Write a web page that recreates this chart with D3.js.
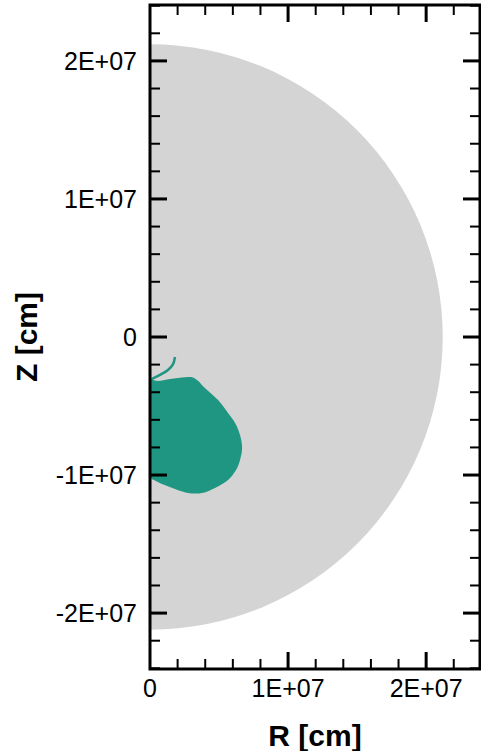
<!DOCTYPE html>
<html>
<head>
<meta charset="utf-8">
<script src="https://cdn.jsdelivr.net/npm/d3@7"></script>
<style>
  body { margin: 0; background: #fff; }
  svg { display: block; font-family: "Liberation Sans", Arial, sans-serif; }
</style>
</head>
<body>
<div id="chart"></div>
<script>
// Domain of the plot (cm)
const rDomain = [0, 2.39e7];
const zDomain = [-2.405e7, 2.405e7];

// Tick values
const rMajorTicks = [0, 1e7, 2e7];
const rTickLabels = ['0', '1E+07', '2E+07'];
const zMajorTicks = [-2e7, -1e7, 0, 1e7, 2e7];
const zTickLabels = ['-2E+07', '-1E+07', '0', '1E+07', '2E+07'];
const minorStep = 2e6;

// Outer star radius (gray half disk)
const starRadius = 2.12e7;

// Green plume outline, [R, Z] in 1e6 cm
const plumeOutline = [
  [0, -2.92], [0.43, -3.17], [1.45, -3.04], [2.54, -2.92], [3.05, -2.92],
  [3.45, -3.15], [3.90, -3.62], [4.93, -4.57], [5.65, -5.51], [6.16, -6.23], [6.52, -7.10],
  [6.67, -8.04], [6.52, -8.91], [6.23, -9.64], [5.65, -10.36], [4.71, -10.94],
  [3.77, -11.30], [2.75, -11.30], [1.81, -11.01], [0.87, -10.65], [0, -10.22]
];
// thin filament above the plume
const filament = [[1.81, -1.45], [1.67, -1.96], [1.30, -2.39], [0.72, -2.75], [0.14, -3.04]];

const width = 481;
const height = 751;
const margin = { left: 150, top: 5, right: 1, bottom: 82 };

const svg = d3.select('#chart')
  .append('svg')
  .attr('width', width)
  .attr('height', height);

const x = d3.scaleLinear().domain(rDomain).range([margin.left, width - margin.right]);
const y = d3.scaleLinear().domain(zDomain).range([height - margin.bottom, margin.top]);

// clip to frame
svg.append('clipPath').attr('id', 'clip')
  .append('rect')
  .attr('x', x(rDomain[0])).attr('y', y(zDomain[1]))
  .attr('width', x(rDomain[1]) - x(rDomain[0]))
  .attr('height', y(zDomain[0]) - y(zDomain[1]));

const plot = svg.append('g').attr('clip-path', 'url(#clip)');

// gray half disk
const rx = x(starRadius) - x(0);
const ry = y(0) - y(starRadius);
plot.append('path')
  .attr('d', `M${x(0)},${y(starRadius)} A${rx},${ry} 0 0 1 ${x(0)},${y(-starRadius)} Z`)
  .attr('fill', '#d4d4d4');

const line = d3.line()
  .x(d => x(d[0] * 1e6))
  .y(d => y(d[1] * 1e6))
  .curve(d3.curveCatmullRom);

plot.append('path')
  .attr('d', line(plumeOutline) + 'Z')
  .attr('fill', '#1f9682');

plot.append('path')
  .attr('d', line(filament))
  .attr('fill', 'none')
  .attr('stroke', '#1f9682')
  .attr('stroke-width', 2.5);

// ticks
const rMinor = d3.range(rDomain[0], rDomain[1], minorStep).filter(v => v % 1e7 !== 0);
const zMinor = d3.range(-2.4e7, 2.41e7, minorStep).filter(v => Math.abs(v % 1e7) > 1);

const ticks = svg.append('g').attr('stroke', '#000');
const majorLen = 17;
const minorLen = 10;

function hTicks(values, len, sw) {
  values.forEach(v => {
    // bottom
    ticks.append('line')
      .attr('x1', x(v)).attr('x2', x(v))
      .attr('y1', y(zDomain[0])).attr('y2', y(zDomain[0]) - len)
      .attr('stroke-width', sw);
    // top
    ticks.append('line')
      .attr('x1', x(v)).attr('x2', x(v))
      .attr('y1', y(zDomain[1])).attr('y2', y(zDomain[1]) + len)
      .attr('stroke-width', sw);
  });
}
function vTicks(values, len, sw) {
  values.forEach(v => {
    ticks.append('line')
      .attr('x1', x(rDomain[0])).attr('x2', x(rDomain[0]) + len)
      .attr('y1', y(v)).attr('y2', y(v))
      .attr('stroke-width', sw);
    ticks.append('line')
      .attr('x1', x(rDomain[1])).attr('x2', x(rDomain[1]) - len)
      .attr('y1', y(v)).attr('y2', y(v))
      .attr('stroke-width', sw);
  });
}
hTicks(rMajorTicks.filter(v => v > 0), majorLen, 3);
hTicks(rMinor, minorLen, 2);
vTicks(zMajorTicks, majorLen, 3);
vTicks(zMinor, minorLen, 2);

// frame
svg.append('rect')
  .attr('x', x(rDomain[0])).attr('y', y(zDomain[1]))
  .attr('width', x(rDomain[1]) - x(rDomain[0]))
  .attr('height', y(zDomain[0]) - y(zDomain[1]))
  .attr('fill', 'none')
  .attr('stroke', '#000')
  .attr('stroke-width', 3);

// tick labels
svg.append('g').selectAll('text')
  .data(rMajorTicks)
  .enter().append('text')
  .attr('x', d => x(d))
  .attr('y', y(zDomain[0]) + 28)
  .attr('text-anchor', 'middle')
  .attr('font-size', 25)
  .text((d, i) => rTickLabels[i]);

svg.append('g').selectAll('text')
  .data(zMajorTicks)
  .enter().append('text')
  .attr('x', x(rDomain[0]) - 13)
  .attr('y', d => y(d))
  .attr('dy', '0.36em')
  .attr('text-anchor', 'end')
  .attr('font-size', 25)
  .text((d, i) => zTickLabels[i]);

// axis titles
svg.append('text')
  .attr('x', (x(rDomain[0]) + x(rDomain[1])) / 2)
  .attr('y', 746)
  .attr('text-anchor', 'middle')
  .attr('font-size', 30)
  .attr('font-weight', 'bold')
  .text('R [cm]');

svg.append('text')
  .attr('transform', `translate(37,${y(0)}) rotate(-90)`)
  .attr('text-anchor', 'middle')
  .attr('font-size', 30)
  .attr('font-weight', 'bold')
  .text('Z [cm]');
</script>
</body>
</html>
